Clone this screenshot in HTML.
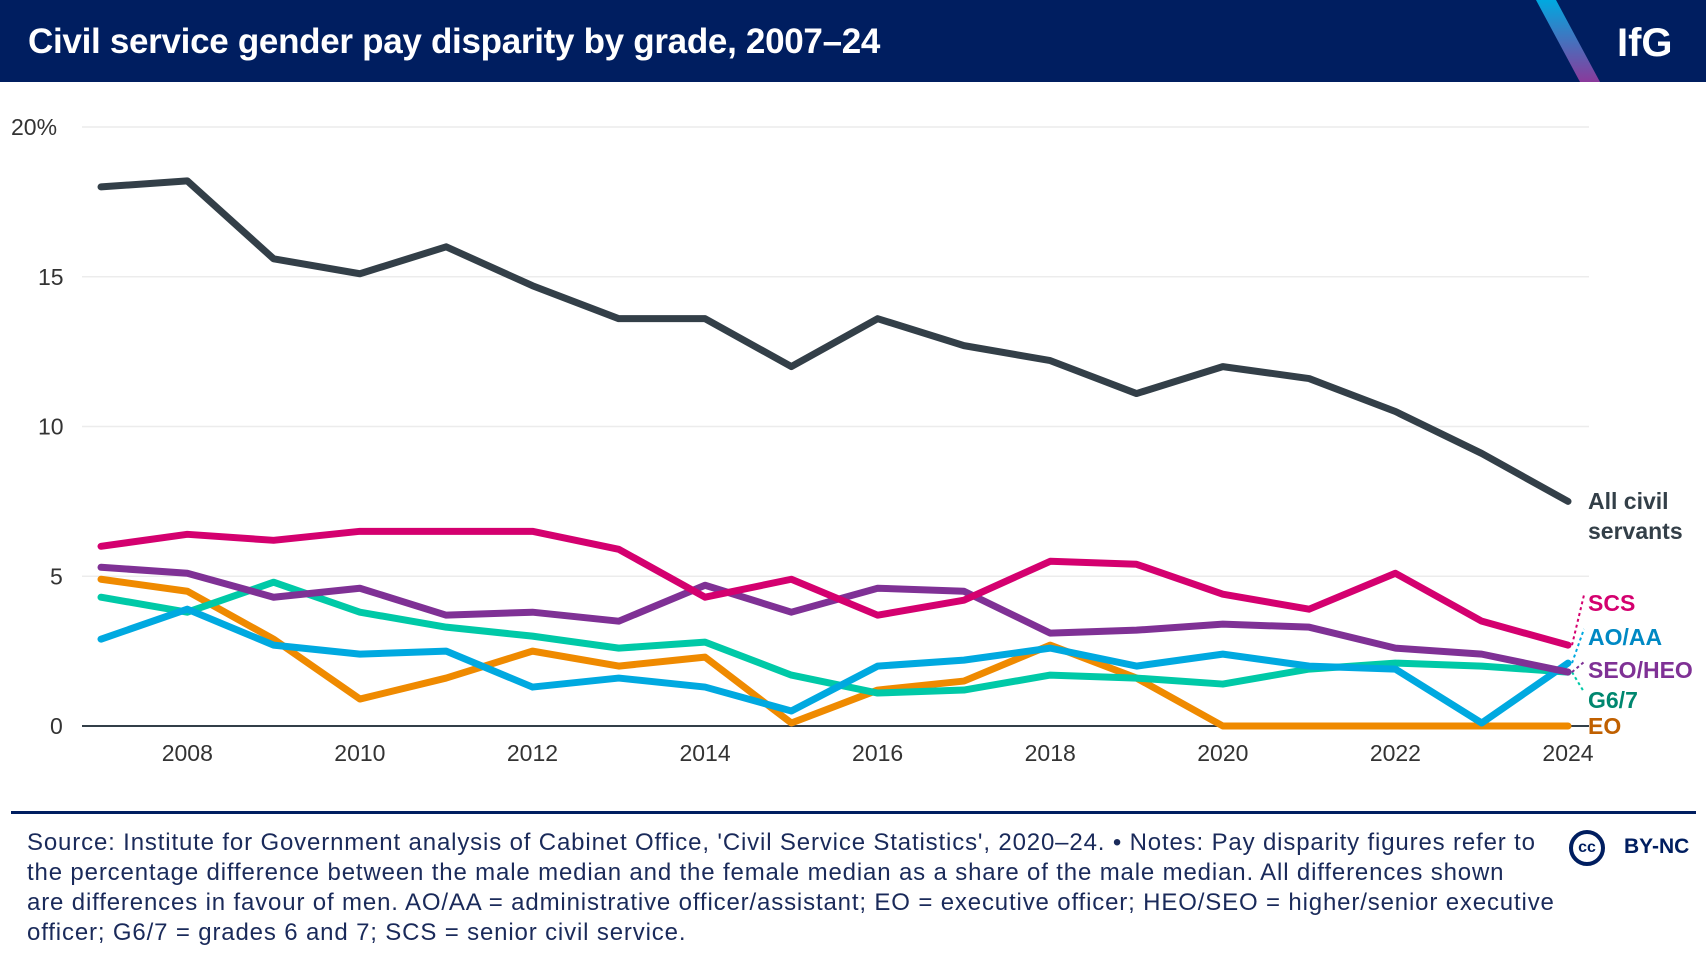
<!DOCTYPE html>
<html><head><meta charset="utf-8"><style>
body{margin:0;width:1706px;height:962px;background:#fff;font-family:"Liberation Sans",sans-serif;overflow:hidden;position:relative}
.hdr{position:absolute;left:0;top:0;width:1706px;height:82px;background:#001e60}
.title{position:absolute;left:28px;top:22px;color:#fff;font-weight:bold;font-size:35px;letter-spacing:-0.3px}
.foot{position:absolute;left:27px;top:828px;font-size:24px;line-height:30px;color:#1a2a5a;letter-spacing:0.85px;white-space:nowrap}
</style></head><body>
<div class="hdr">
<div class="title">Civil service gender pay disparity by grade, 2007–24</div>
<svg width="1706" height="82" style="position:absolute;left:0;top:0">
<defs><linearGradient id="g" x1="0" y1="0" x2="0" y2="1"><stop offset="0" stop-color="#00a9e0"/><stop offset="1" stop-color="#8a3a9b"/></linearGradient></defs>
<polygon points="1536,0 1556,0 1600,82 1580,82" fill="url(#g)"/>
<text x="1617" y="56" fill="#fff" font-weight="bold" font-size="40" font-family="Liberation Sans">IfG</text>
</svg>
</div>
<svg id="chart" width="1706" height="800" style="position:absolute;left:0;top:0"></svg>
<div style="position:absolute;left:11px;top:811px;width:1685px;height:3px;background:#001e60"></div>
<div class="foot">Source: Institute for Government analysis of Cabinet Office, 'Civil Service Statistics', 2020–24. • Notes: Pay disparity figures refer to<br>the percentage difference between the male median and the female median as a share of the male median. All differences shown<br>are differences in favour of men. AO/AA = administrative officer/assistant; EO = executive officer; HEO/SEO = higher/senior executive<br>officer; G6/7 = grades 6 and 7; SCS = senior civil service.</div>
<div style="position:absolute;left:1569px;top:830px;width:36px;height:36px;border:4px solid #001e60;border-radius:50%;box-sizing:border-box;text-align:center;font-weight:bold;font-size:16px;line-height:28px;color:#001e60">cc</div>
<div style="position:absolute;left:1624px;top:835px;font-weight:bold;font-size:21px;color:#001e60">BY-NC</div>
<script>
const years=[2007,2008,2009,2010,2011,2012,2013,2014,2015,2016,2017,2018,2019,2020,2021,2022,2023,2024];
const allCS=[18.0,18.2,15.6,15.1,16.0,14.7,13.6,13.6,12.0,13.6,12.7,12.2,11.1,12.0,11.6,10.5,9.1,7.5];
const scs=[6.0,6.4,6.2,6.5,6.5,6.5,5.9,4.3,4.9,3.7,4.2,5.5,5.4,4.4,3.9,5.1,3.5,2.7];
const seoHeo=[5.3,5.1,4.3,4.6,3.7,3.8,3.5,4.7,3.8,4.6,4.5,3.1,3.2,3.4,3.3,2.6,2.4,1.8];
const g67=[4.3,3.8,4.8,3.8,3.3,3.0,2.6,2.8,1.7,1.1,1.2,1.7,1.6,1.4,1.9,2.1,2.0,1.8];
const aoAa=[2.9,3.9,2.7,2.4,2.5,1.3,1.6,1.3,0.5,2.0,2.2,2.6,2.0,2.4,2.0,1.9,0.1,2.1];
const eo=[4.9,4.5,2.9,0.9,1.6,2.5,2.0,2.3,0.1,1.2,1.5,2.7,1.6,0,0,0,0,0];
const yTicks=[0,5,10,15,20];
const yTickLabels=["0","5","10","15","20%"];
const xTicks=[2008,2010,2012,2014,2016,2018,2020,2022,2024];
const NS="http://www.w3.org/2000/svg";
const svg=document.getElementById('chart');
const x=v=>101+(v-2007)*(1568-101)/17;
const y=v=>726-v*(726-127)/20;
function mk(t,a){const e=document.createElementNS(NS,t);for(const k in a)e.setAttribute(k,a[k]);svg.appendChild(e);return e;}
yTicks.forEach((t,i)=>{
 if(t>0){const g=mk('line',{x1:82,x2:1589,y1:y(t),y2:y(t),stroke:'#ececec','stroke-width':1.5});
 
 }
 const l=mk('text',{x:i==4?11:(t>=10?38:50),y:y(t)+8,'font-size':23,fill:'#333'});l.textContent=yTickLabels[i];
 
 
});
const base=mk('line',{x1:82,x2:1589,y1:y(0),y2:y(0),stroke:'#333f48','stroke-width':2});


xTicks.forEach(t=>{const l=mk('text',{x:x(t),y:761,'font-size':23,fill:'#333','text-anchor':'middle'});l.textContent=t;
 
 });
const series=[
 {d:eo,c:'#ef8a00',lc:'#c06000',n:'EO',ly:726,nm:'series-eo'},
 {d:g67,c:'#00c9a7',lc:'#00876f',n:'G6/7',ly:700,nm:'series-g6-7'},
 {d:aoAa,c:'#00a9e0',lc:'#0089c4',n:'AO/AA',ly:637,nm:'series-ao-aa'},
 {d:seoHeo,c:'#7f3195',lc:'#7f3195',n:'SEO/HEO',ly:670,nm:'series-seo-heo'},
 {d:scs,c:'#d4006f',lc:'#d4006f',n:'SCS',ly:603,nm:'series-scs'},
 {d:allCS,c:'#333f48',lc:'#333f48',n:'',ly:0,nm:'series-all-civil-servants'}
];
series.forEach(s=>{
 const p=mk('polyline',{points:s.d.map((v,i)=>x(years[i])+','+y(v)).join(' '),fill:'none',stroke:s.c,'stroke-width':7,'stroke-linejoin':'round','stroke-linecap':'round'});
 
 
 if(s.n){
  const last=s.d[s.d.length-1];
  if(s.n!=='EO'){const c=mk('line',{x1:x(2024)+4,y1:y(last),x2:1584,y2:s.ly-8,stroke:s.c,'stroke-width':2,'stroke-dasharray':'3,3'});
  
  }
  const t=mk('text',{x:1588,y:s.ly+8,'font-size':23,'font-weight':'bold',fill:s.lc});t.textContent=s.n;
  
  
 }
});
['All civil','servants'].forEach((s,i)=>{const t=mk('text',{x:1588,y:509+i*30,'font-size':23,'font-weight':'bold',fill:'#333f48'});t.textContent=s;
 
 });
</script>
</body></html>
